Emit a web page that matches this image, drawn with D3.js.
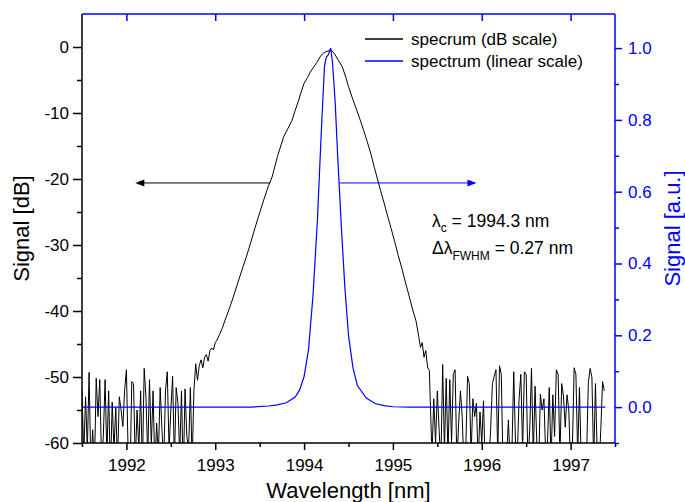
<!DOCTYPE html>
<html>
<head>
<meta charset="utf-8">
<script src="https://cdn.jsdelivr.net/npm/d3@7"></script>
<style>
  body { margin: 0; background: #fff; }
  text { font-family: "Liberation Sans", Arial, sans-serif; }
</style>
</head>
<body>
<div id="chart"></div>
<script>

// size and frame
var width = 685;
var height = 502;
var plotL = 82;
var plotR = 615;
var plotT = 14;
var plotB = 443;
var blue = "#0000ff";

// ---- data ----

// noise floor left of the peak, sampled every 0.02 nm from 1991.50
var noiseLeftStart = 1991.50;
var noiseLeftDb = [-52, -62, -53, -61, -49.3, -64, -58, -64, -50.2, -56, -50.4, -63, -59, -50.4, -62, -52.1,
  -65, -53.8, -61, -54.6, -63, -53, -55, -57.5, -52, -48.9, -62, -66, -50.7, -51, -63, -55,
  -61, -52.1, -64, -48.7, -53, -62, -50.4, -60.5, -52.1, -64, -57, -62, -51.6, -58, -63, -52,
  -49.2, -61, -55, -49.9, -63, -51.6, -54, -62, -52.1, -65, -51.8, -59, -61, -51.6, -63, -52];

// the peak itself (dB)
var peakWl = [1992.78, 1992.80, 1992.82, 1992.84, 1992.86, 1992.88, 1992.90, 1992.92, 1992.94, 1992.96, 1992.98,
  1993.00, 1993.02, 1993.05, 1993.08, 1993.11, 1993.14, 1993.17, 1993.20, 1993.25, 1993.30, 1993.35,
  1993.40, 1993.45, 1993.50, 1993.55, 1993.60, 1993.64, 1993.70, 1993.77, 1993.82, 1993.865, 1993.90,
  1993.94, 1993.97, 1994.00, 1994.04, 1994.07, 1994.11, 1994.15, 1994.18, 1994.21, 1994.24, 1994.27,
  1994.30, 1994.33, 1994.35, 1994.39, 1994.43, 1994.47, 1994.50, 1994.54, 1994.58, 1994.62, 1994.67,
  1994.71, 1994.75, 1994.79, 1994.82, 1994.86, 1994.90, 1994.94, 1994.98, 1995.02, 1995.06, 1995.10,
  1995.14, 1995.18, 1995.22, 1995.26, 1995.29, 1995.31, 1995.33, 1995.35, 1995.37, 1995.39, 1995.41];
var peakDb = [-48.0, -50.5, -48.3, -47.4, -48.6, -47.0, -46.6, -47.6, -46.0, -45.6, -45.9,
  -44.8, -44.4, -43.5, -42.6, -41.4, -40.3, -39.2, -38.0, -35.9, -33.8, -31.8,
  -29.6, -27.3, -25.1, -23.0, -21.0, -19.7, -16.6, -13.6, -12.3, -11.1, -9.6,
  -8.0, -6.7, -5.5, -4.6, -3.8, -3.0, -2.2, -1.5, -1.0, -0.75, -0.6,
  -0.5, -0.8, -1.2, -2.1, -3.0, -4.6, -6.0, -7.6, -9.1, -10.6, -12.6,
  -14.3, -16.1, -18.2, -19.7, -21.7, -23.6, -25.6, -27.5, -29.5, -31.6, -33.5,
  -35.6, -37.6, -39.7, -41.5, -43.8, -45.5, -44.8, -47.0, -46.0, -48.5, -49.0];

// noise floor right of the peak, sampled every 0.02 nm from 1995.44
var noiseRightStart = 1995.44;
var noiseRightDb = [-62, -53.3, -60, -52.1, -58, -63, -48.1, -61, -50.2, -62, -50.4, -60, -49.6, -48.9, -63, -57,
  -52.1, -56, -64, -61, -49.9, -51, -62, -53.3, -56, -54, -63, -55.3, -60, -53.6, -65, -61,
  -63, -58, -51, -49.9, -48.9, -62, -48.3, -49.6, -64, -60, -62, -56.5, -63, -61, -49.2, -60,
  -62, -53.4, -49.6, -61, -49.2, -49.6, -63, -58, -48.7, -62, -51.4, -60, -64, -52.6, -55, -53.3,
  -62, -60, -51.6, -63, -52.7, -59, -48.9, -49.6, -62, -51, -52.9, -57.6, -52.7, -55, -64, -61,
  -48.6, -49.6, -62, -51.6, -63, -60, -65, -62, -50.8, -48.7, -50, -63, -51, -62, -64, -58,
  -50.7, -52.1];
var noiseStep = 0.02;

// linear spectrum (a.u.)
var linWl = [1991.50, 1993.40, 1993.60, 1993.70, 1993.80, 1993.90, 1993.95, 1994.00, 1994.05, 1994.10, 1994.15,
  1994.18, 1994.20, 1994.22, 1994.23, 1994.25, 1994.27, 1994.30, 1994.32, 1994.35, 1994.38, 1994.42,
  1994.46, 1994.50, 1994.55, 1994.60, 1994.70, 1994.80, 1994.90, 1995.00, 1995.20, 1997.39];
var linVal = [0, 0, 0.003, 0.006, 0.012, 0.028, 0.048, 0.085, 0.16, 0.31, 0.52,
  0.69, 0.80, 0.90, 0.95, 0.975, 0.98, 1.0, 0.96, 0.85, 0.69, 0.50,
  0.33, 0.20, 0.11, 0.06, 0.025, 0.01, 0.004, 0.001, 0, 0];

// ticks
var xMajor = [1992, 1993, 1994, 1995, 1996, 1997];
var xMinor = [1991.5, 1992.5, 1993.5, 1994.5, 1995.5, 1996.5, 1997.5];
var dbMajor = [-60, -50, -40, -30, -20, -10, 0];
var dbMinor = [-55, -45, -35, -25, -15, -5];
var linMajor = [0, 0.2, 0.4, 0.6, 0.8, 1.0];
var linMinor = [-0.1, 0.1, 0.3, 0.5, 0.7, 0.9];

// build the dB trace
var dbTrace = [];
noiseLeftDb.forEach(function(v, i) {
  dbTrace.push([noiseLeftStart + i * noiseStep, v]);
});
peakWl.forEach(function(w, i) {
  dbTrace.push([w, peakDb[i]]);
});
noiseRightDb.forEach(function(v, i) {
  dbTrace.push([noiseRightStart + i * noiseStep, v]);
});
var linTrace = linWl.map(function(w, i) { return [w, linVal[i]]; });

// canvas
var svg = d3
  .select("#chart")
  .append("svg")
  .attr("width", width)
  .attr("height", height);

// scales
var xScale = d3.scaleLinear().domain([1991.5, 1997.5]).range([plotL, plotR]);
var yDb = d3.scaleLinear().domain([-60, 5]).range([plotB, plotT]);
var yLin = d3.scaleLinear().domain([-0.1, 1.095]).range([plotB, plotT]);

svg.append("clipPath").attr("id", "clip")
  .append("rect")
  .attr("x", plotL).attr("y", plotT)
  .attr("width", plotR - plotL).attr("height", plotB - plotT);

// curves
var dbLine = d3.line()
  .x(function(d) { return xScale(d[0]); })
  .y(function(d) { return yDb(d[1]); });
var linLine = d3.line()
  .x(function(d) { return xScale(d[0]); })
  .y(function(d) { return yLin(d[1]); });

svg.append("path")
  .datum(dbTrace)
  .attr("clip-path", "url(#clip)")
  .attr("d", dbLine)
  .attr("fill", "none")
  .attr("stroke", "#000")
  .attr("stroke-width", 1);

svg.append("path")
  .datum(linTrace)
  .attr("clip-path", "url(#clip)")
  .attr("d", linLine)
  .attr("fill", "none")
  .attr("stroke", blue)
  .attr("stroke-width", 1.2);

// axes
function styleAxis(g, color) {
  g.select(".domain").remove();
  g.selectAll(".tick line").attr("stroke", color).attr("stroke-width", 1.5);
  g.selectAll(".tick text")
    .attr("fill", color)
    .style("font-size", "17px")
    .style("font-family", "'Liberation Sans', Arial, sans-serif");
}
// plain hyphen for negative numbers, like the original
var plainInt = function(d) { return String(d); };

svg.append("g")
  .attr("transform", "translate(" + plotL + ",0)")
  .call(d3.axisLeft(yDb).tickValues(dbMajor).tickSize(9).tickPadding(4).tickFormat(plainInt))
  .call(styleAxis, "#000");
svg.append("g")
  .attr("transform", "translate(" + plotL + ",0)")
  .call(d3.axisLeft(yDb).tickValues(dbMinor).tickSize(5).tickFormat(""))
  .call(styleAxis, "#000");

svg.append("g")
  .attr("transform", "translate(0," + plotB + ")")
  .call(d3.axisBottom(xScale).tickValues(xMajor).tickSize(7).tickPadding(9).tickFormat(plainInt))
  .call(styleAxis, "#000");
svg.append("g")
  .attr("transform", "translate(0," + plotB + ")")
  .call(d3.axisBottom(xScale).tickValues(xMinor).tickSize(4).tickFormat(""))
  .call(styleAxis, "#000");

svg.append("g")
  .attr("transform", "translate(0," + plotT + ")")
  .call(d3.axisBottom(xScale).tickValues(xMajor).tickSize(7).tickFormat(""))
  .call(styleAxis, blue);

svg.append("g")
  .attr("transform", "translate(" + plotR + ",0)")
  .call(d3.axisRight(yLin).tickValues(linMajor).tickSize(7).tickPadding(6).tickFormat(d3.format(".1f")))
  .call(styleAxis, blue);
svg.append("g")
  .attr("transform", "translate(" + plotR + ",0)")
  .call(d3.axisRight(yLin).tickValues(linMinor).tickSize(4).tickFormat(""))
  .call(styleAxis, blue);

// frame lines
svg.append("line").attr("x1", plotL).attr("x2", plotR).attr("y1", plotB).attr("y2", plotB)
  .attr("stroke", "#000").attr("stroke-width", 1.5);
svg.append("line").attr("x1", plotL).attr("x2", plotL).attr("y1", plotT).attr("y2", plotB)
  .attr("stroke", "#000").attr("stroke-width", 1.5);
svg.append("line").attr("x1", plotL).attr("x2", plotR).attr("y1", plotT).attr("y2", plotT)
  .attr("stroke", blue).attr("stroke-width", 1.5);
svg.append("line").attr("x1", plotR).attr("x2", plotR).attr("y1", plotT).attr("y2", plotB)
  .attr("stroke", blue).attr("stroke-width", 1.5);

// axis titles
svg.append("text")
  .attr("x", (plotL + plotR) / 2)
  .attr("y", 498)
  .attr("text-anchor", "middle")
  .style("font-size", "22px")
  .text("Wavelength [nm]");

svg.append("text")
  .attr("transform", "translate(29," + (plotT + plotB) / 2 + ")rotate(-90)")
  .attr("text-anchor", "middle")
  .style("font-size", "22px")
  .text("Signal [dB]");

svg.append("text")
  .attr("transform", "translate(680," + (plotT + plotB) / 2 + ")rotate(-90)")
  .attr("text-anchor", "middle")
  .attr("fill", blue)
  .style("font-size", "22px")
  .text("Signal [a.u.]");

// legend
var legend = [
  { label: "specrum (dB scale)", color: "#000", y: 39 },
  { label: "spectrum (linear scale)", color: blue, y: 61 }
];
legend.forEach(function(d) {
  svg.append("line")
    .attr("x1", 365).attr("x2", 403)
    .attr("y1", d.y).attr("y2", d.y)
    .attr("stroke", d.color).attr("stroke-width", 1.5);
  svg.append("text")
    .attr("x", 411)
    .attr("y", d.y + 6)
    .style("font-size", "17px")
    .text(d.label);
});

// arrows
var arrowDb = -20.6;
function arrow(x1, x2, y, color) {
  var dir = x2 > x1 ? 1 : -1;
  svg.append("line")
    .attr("x1", x1).attr("x2", x2 - dir * 6)
    .attr("y1", y).attr("y2", y)
    .attr("stroke", color).attr("stroke-width", 1);
  svg.append("path")
    .attr("d", "M" + x2 + "," + y + "L" + (x2 - dir * 9) + "," + (y - 3.5) + "L" + (x2 - dir * 9) + "," + (y + 3.5) + "Z")
    .attr("fill", color);
}
arrow(xScale(1993.62), xScale(1992.10), yDb(arrowDb), "#000");
arrow(xScale(1994.40), xScale(1995.94), yDb(arrowDb), blue);

// annotation
var note1 = svg.append("text").attr("x", 432).attr("y", 227).style("font-size", "17.5px");
note1.append("tspan").text("λ");
note1.append("tspan").attr("dy", 5).style("font-size", "12px").text("c");
note1.append("tspan").attr("dy", -5).text(" = 1994.3 nm");

var note2 = svg.append("text").attr("x", 432).attr("y", 254).style("font-size", "17.5px");
note2.append("tspan").text("Δλ");
note2.append("tspan").attr("dy", 6).style("font-size", "12px").text("FWHM");
note2.append("tspan").attr("dy", -6).text(" = 0.27 nm");

</script>
</body>
</html>
